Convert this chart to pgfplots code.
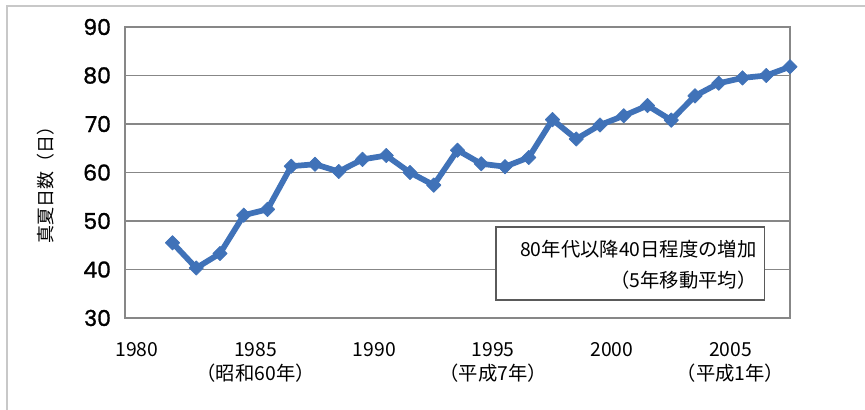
\documentclass[border=0pt]{standalone}
\usepackage{fontspec}
\usepackage{pgfplots}
\pgfplotsset{compat=1.18}
\newfontfamily\jp{Noto Sans CJK JP}
\newfontfamily\geo[FakeBold=1.3]{Poppins}
\definecolor{serieblue}{RGB}{64,114,184}
\definecolor{gridgray}{RGB}{135,135,135}
\definecolor{framegray}{RGB}{200,200,200}
\definecolor{boxgray}{RGB}{90,90,90}

% 5-year moving average of midsummer days (days >= 30 C)
\pgfplotstableread{
year  days
1981.5 45.5
1982.5 40.3
1983.5 43.3
1984.5 51.2
1985.5 52.4
1986.5 61.3
1987.5 61.7
1988.5 60.2
1989.5 62.7
1990.5 63.5
1991.5 60.0
1992.5 57.4
1993.5 64.6
1994.5 61.8
1995.5 61.2
1996.5 63.1
1997.5 70.9
1998.5 66.9
1999.5 69.8
2000.5 71.7
2001.5 73.8
2002.5 70.8
2003.5 75.8
2004.5 78.4
2005.5 79.5
2006.5 80.0
2007.5 81.8
}\summerdays

\begin{document}
\begin{tikzpicture}
\useasboundingbox (0pt,0pt) rectangle (648.75pt,307.5pt);
\fill[white] (0pt,0pt) rectangle (648.75pt,307.5pt);
\draw[framegray, line width=1.5pt] (5.6pt,-5pt) -- (5.6pt,303pt) -- (655pt,303pt);
\begin{axis}[
  at={(93.75pt,69pt)}, anchor=south west,
  scale only axis, width=498.75pt, height=218.25pt,
  clip=false,
  xmin=1979.5, xmax=2007.5, ymin=30, ymax=90,
  xtick={1980,1985,1990,1995,2000,2005},
  xticklabels={1980,{1985\\（昭和60年）},1990,{1995\\（平成7年）},2000,{2005\\（平成1年）}},
  xticklabel style={font=\jp\fontsize{14.5}{17.5}\selectfont, align=center, yshift=-15pt},
  xtick style={draw=none},
  ytick={30,40,...,90},
  ymajorgrids,
  major grid style={gridgray, line width=1.2pt},
  axis line style={gridgray, line width=1.2pt},
  ytick style={gridgray, line width=1pt},
  tick align=inside, major tick length=3.75pt,
  /pgf/number format/assume math mode=true,
  yticklabel style={font=\geo\fontsize{16.5}{16.5}\selectfont, xshift=-7pt},
  ylabel={真夏日数（日）},
  ylabel style={font=\jp\fontsize{13.5}{13.5}\selectfont, at={(axis description cs:-0.12,0.474)}, anchor=center},
]
\addplot[serieblue, line width=4.3pt, line join=round,
  mark=diamond*, mark size=5.4pt,
  mark options={solid, line width=0.5pt, xscale=1.33}]
  table[x=year, y=days] {\summerdays};

\draw[fill=white, draw=boxgray, line width=1pt]
  (rel axis cs:0.558,0.062) rectangle (rel axis cs:0.962,0.313);
\node[anchor=east, inner sep=0pt, font=\jp\fontsize{14.5}{14.5}\selectfont]
  at (rel axis cs:0.950,0.237) {80年代以降40日程度の増加};
\node[anchor=east, inner sep=0pt, font=\jp\fontsize{14.5}{14.5}\selectfont]
  at (rel axis cs:0.950,0.131) {（5年移動平均）};
\end{axis}
\end{tikzpicture}
\end{document}
